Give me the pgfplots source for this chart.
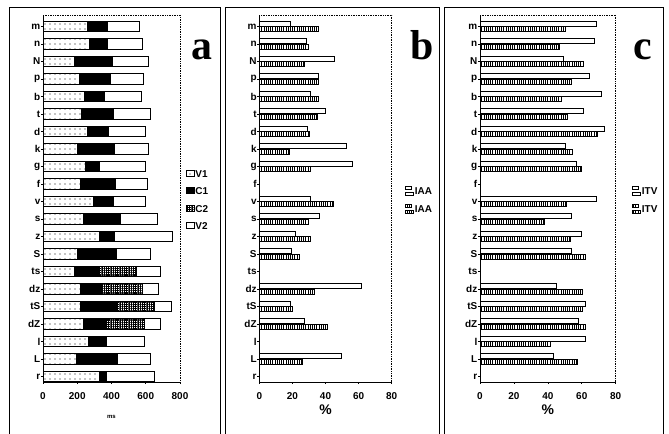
\documentclass[border=0pt]{standalone}
\usepackage{pgfplots}
\pgfplotsset{compat=1.18}
\usepackage{pgfplotstable}
\usetikzlibrary{patterns.meta}
\usepackage{fontspec}
\setmainfont{Liberation Sans}
\newfontfamily\serifb{Liberation Serif}

% panel a: durations (ms), y = 20 - category index
\pgfplotstableread{
y V1 C1 C2 V2
20 262 114 0 185
19 272 104 0 205
18 184 221 0 211
17 215 180 0 192
16 243 113 0 219
15 223 186 0 217
14 262 119 0 219
13 200 215 0 201
12 248 83 0 269
11 219 202 0 189
10 293 116 0 191
9 235 219 0 215
8 331 88 0 334
7 203 227 0 200
6 184 139 225 137
5 219 127 235 94
4 219 211 223 94
3 235 131 229 88
2 268 104 0 223
1 194 240 0 192
0 331 41 0 277
}\tabA

% panel b: IAA (%)
\pgfplotstableread{
y A B
20 18.5 35.7
19 28.6 29.6
18 45.3 27.0
17 35.7 35.7
16 30.6 35.7
15 39.7 35.1
14 29.2 30.0
13 52.4 17.9
12 56.4 30.6
10 30.6 44.7
9 36.3 29.6
8 21.6 30.6
7 19.5 24.0
5 61.9 33.0
4 18.5 20.0
3 27.2 41.3
1 49.8 26.0
}\tabB

% panel c: ITV (%)
\pgfplotstableread{
y A B
20 68.8 50.1
19 67.4 46.8
18 49.2 60.9
17 64.5 54.1
16 71.8 47.8
15 60.9 51.7
14 73.1 69.2
13 50.5 54.7
12 57.0 60.0
10 68.8 51.1
9 53.7 37.9
8 60.0 53.1
7 54.1 62.3
5 45.2 60.4
4 62.3 60.4
3 58.0 62.3
2 62.3 41.3
1 43.3 57.6
}\tabC

\pgfplotsset{
  panel/.style={
    scale only axis, height=367bp, ymin=-0.314, ymax=20.657,
    anchor=south west,
    axis x line*=bottom, axis y line*=left,
    axis line style={line width=0.8bp, black},
    ytick={0,...,20},
    yticklabels={r,L,l,dZ,tS,dz,ts,S,z,s,v,f,g,k,d,t,b,p,N,n,m},
    tick align=outside, major tick length=2bp,
    tick style={line width=0.6bp, black},
    ticklabel style={font=\fontsize{10}{10}\selectfont\bfseries, inner sep=0pt},
    yticklabel style={xshift=-0.5bp},
    xticklabel style={yshift=-8bp},
    /pgf/number format/assume math mode=true,
    clip=false,
    legend cell align=left,
    legend image code/.code={\draw[##1, line width=0.6bp] (0bp,-3bp) rectangle (4.5bp,3bp);},
    legend style={draw=none, fill=none, font=\fontsize{10}{10}\selectfont\bfseries,
      row sep=7bp, anchor=north west, inner sep=0pt,
      nodes={inner sep=1bp}},
  },
  pct/.style={
    xmin=0, xmax=80, xtick={0,20,40,60,80},
    xbar, bar width=5bp,
    xlabel={\%},
    xlabel style={font=\fontsize{14}{14}\selectfont\bfseries,
      at={(axis description cs:0.5,-0.076)}, anchor=center},
  },
  barA/.style={draw=black, line width=0.8bp, fill=white, bar shift=2.8bp},
  barB/.style={draw=black, line width=0.8bp,
    pattern={Lines[angle=90, distance=2.2bp, line width=0.7bp]}, bar shift=-2.8bp},
}

\begin{document}
\begin{tikzpicture}[x=1bp,y=1bp]
\useasboundingbox (0,0) rectangle (669,434);
\fill[white] (0,0) rectangle (669,434);

% panel frames
\draw[line width=0.9bp] (9,-5) -- (9,427) -- (220,427) -- (220,-5);
\draw[line width=0.9bp] (225,-5) -- (225,427) -- (439,427) -- (439,-5);
\draw[line width=0.9bp] (444,-5) -- (444,427) -- (663,427) -- (663,-5);

% panel a
\begin{axis}[panel, at={(43bp,52bp)}, width=137bp,
  xbar stacked, bar width=10.5bp,
  xmin=0, xmax=800, xtick={0,200,400,600,800},
  xlabel={ms},
  xlabel style={font=\fontsize{6}{6}\selectfont\bfseries,
    at={(axis description cs:0.5,-0.095)}, anchor=center},
  legend style={at={(axis description cs:1.04,0.58)}},
]
\addplot[draw=black, line width=0.8bp, pattern={Dots[distance=5bp, radius=0.6bp]}] table[x=V1, y=y] {\tabA};
\addplot[draw=black, line width=0.8bp, fill=black] table[x=C1, y=y] {\tabA};
\addplot[draw=black, line width=0.8bp, pattern={Hatch[distance=1.8bp, line width=0.5bp]}] table[x=C2, y=y] {\tabA};
\addplot[draw=black, line width=0.8bp, fill=white] table[x=V2, y=y] {\tabA};
\legend{V1,C1,C2,V2}
\draw[densely dotted, line width=0.7bp] (rel axis cs:0,1) -- (rel axis cs:1,1) -- (rel axis cs:1,0);
\end{axis}

% panel b
\begin{axis}[panel, pct, at={(259.3bp,52bp)}, width=132.4bp,
  legend style={at={(axis description cs:1.10,0.535)}},
]
\addplot[barA] table[x=A, y=y] {\tabB};
\addplot[barB] table[x=B, y=y] {\tabB};
\legend{IAA,IAA}
\draw[densely dotted, line width=0.7bp] (rel axis cs:0,1) -- (rel axis cs:1,1) -- (rel axis cs:1,0);
\end{axis}

% panel c
\begin{axis}[panel, pct, at={(480bp,52bp)}, width=135.7bp,
  legend style={at={(axis description cs:1.12,0.535)}},
]
\addplot[barA] table[x=A, y=y] {\tabC};
\addplot[barB] table[x=B, y=y] {\tabC};
\legend{ITV,ITV}
\draw[densely dotted, line width=0.7bp] (rel axis cs:0,1) -- (rel axis cs:1,1) -- (rel axis cs:1,0);
\end{axis}

% panel letters
\node[font=\serifb\bfseries\fontsize{42}{42}\selectfont, anchor=base, inner sep=0pt] at (202,374) {a};
\node[font=\serifb\bfseries\fontsize{42}{42}\selectfont, anchor=base, inner sep=0pt] at (422,374) {b};
\node[font=\serifb\bfseries\fontsize{42}{42}\selectfont, anchor=base, inner sep=0pt] at (643,374) {c};
\end{tikzpicture}
\end{document}
